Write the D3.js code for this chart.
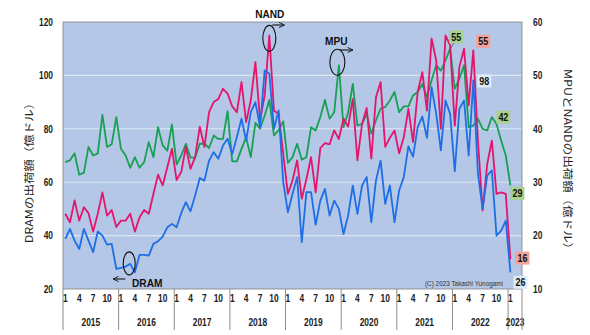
<!DOCTYPE html>
<html><head><meta charset="utf-8">
<script src="https://cdn.jsdelivr.net/npm/d3@7"></script>
<style>
html,body{margin:0;padding:0;background:#fff;}
svg{display:block;}
</style></head>
<body>
<svg id="chart" width="590" height="335"></svg>
<script>
// ---------- DATA ----------
const years = ["2015","2016","2017","2018","2019","2020","2021","2022","2023"];
const monthTicks = ["1","4","7","10"];
const leftTicks = [20,40,60,80,100,120];
const rightTicks = [10,20,30,40,50,60];
// DRAM shipments (left axis, 億ドル), monthly 2015-01 .. 2023-01
const dram = [38.75,42.5,38.1,35.0,42.5,38.1,33.75,41.6,40.0,36.6,36.9,27.5,
  27.9,28.4,29.4,26.25,32.75,32.75,32.5,36.9,37.9,39.6,43.1,44.4,
  43.1,48.5,52.5,49.1,55.0,61.6,60.6,68.1,71.25,68.75,73.75,76.25,
  70.6,76.9,83.75,75.6,86.25,90.0,80.6,101.9,100.6,80.0,86.9,60.0,
  48.75,55.6,61.9,37.5,56.25,56.25,44.1,53.1,57.5,47.5,53.1,50.0,
  40.6,47.5,58.75,48.1,58.75,61.9,45.0,60.6,68.1,51.9,58.75,45.0,
  56.9,61.9,73.4,69.6,80.6,84.6,76.6,95.6,85.6,71.9,90.6,85.6,
  64.1,87.5,90.6,70.0,98.1,63.1,50.0,62.5,64.4,40.0,41.9,45.6,
  26.25];
// MPU shipments (right axis)
const mpu = [33.75,34.1,35.4,31.4,31.8,36.6,35.0,35.4,42.6,36.6,37.1,42.2,
  36.25,35.0,32.7,34.7,32.7,33.75,37.5,34.7,40.3,36.9,35.9,40.8,
  33.3,35.0,37.2,34.6,34.6,37.2,37.2,36.4,38.75,38.1,38.1,43.3,
  33.9,33.9,36.25,38.4,34.7,41.1,40.0,42.5,45.4,38.75,39.7,41.4,
  33.6,34.7,37.2,34.2,34.7,40.3,39.7,42.2,45.4,41.9,43.1,51.9,
  40.3,43.1,48.4,40.6,40.9,42.8,39.1,41.6,43.75,44.1,45.3,46.9,
  43.1,44.2,44.2,46.25,46.9,48.4,45.9,49.1,51.9,50.9,52.8,55.0,
  47.5,49.4,51.9,40.3,40.6,41.9,40.0,39.7,42.2,40.9,37.8,35.0,
  29.4];
// NAND shipments (right axis)
const nand = [24.1,22.5,26.6,22.8,25.3,24.2,20.75,24.1,28.1,23.75,24.8,21.6,
  22.8,22.8,24.1,20.75,23.4,24.8,24.1,27.8,31.4,29.4,32.8,36.25,
  30.4,31.9,36.6,32.5,34.7,40.4,36.6,43.1,45.0,45.6,47.5,46.6,
  44.2,43.1,48.75,41.25,45.3,52.5,41.6,46.25,57.5,43.4,42.8,35.3,
  27.8,30.3,34.1,26.9,30.6,34.7,28.1,36.4,37.3,37.1,39.7,38.1,
  41.9,40.4,45.6,34.1,40.9,43.9,34.4,45.9,48.75,36.6,38.3,39.7,
  35.4,38.4,43.75,37.5,46.9,50.6,43.4,56.9,52.8,40.0,57.5,55.6,
  40.6,51.6,55.0,44.4,54.7,37.8,24.7,33.4,37.8,27.8,28.1,27.8,
  15.6];
const valueLabels = [
  {series:"mpu", idx:83, text:"55", dx:6, dy:-12, fill:"#a9d18e", leader:true},
  {series:"nand", idx:88, text:"55", dx:10, dy:-9, fill:"#f4a19c", leader:false},
  {series:"dram", idx:88, text:"98", dx:11, dy:0.5, fill:"#deebf7", leader:false},
  {series:"mpu", idx:92, text:"42", dx:11.5, dy:0, fill:"#a9d18e", leader:false},
  {series:"mpu", idx:96, text:"29", dx:7, dy:8, fill:"#a9d18e", leader:false},
  {series:"nand", idx:96, text:"16", dx:12, dy:-1, fill:"#f4a19c", leader:false},
  {series:"dram", idx:96, text:"26", dx:10, dy:10, fill:"#deebf7", leader:false}
];

// ---------- LAYOUT ----------
const L = 63, R = 522, T = 22, B = 289;
const svg = d3.select("#chart");
const FONT = "'Liberation Sans', Arial, sans-serif";
const JFONT = "'Noto Sans CJK JP', 'Noto Sans', sans-serif";

const nSlots = years.length * 12 - 9; // 2015-01 .. 2023-03 = 99 slots
const x = d3.scaleBand().domain(d3.range(nSlots)).range([L, R]).padding(0);
const xc = i => x(i) + x.bandwidth() / 2;
const yL = d3.scaleLinear().domain([20,120]).range([B, T]);
const yR = d3.scaleLinear().domain([10,60]).range([B, T]);

// plot background
svg.append("rect").attr("x", L).attr("y", T).attr("width", R-L).attr("height", B-T)
  .attr("fill", "#b4c7e7");
// gridlines
svg.append("g").selectAll("line").data(leftTicks.filter(v => v>20 && v<120)).join("line")
  .attr("x1", L).attr("x2", R).attr("y1", d=>yL(d)).attr("y2", d=>yL(d))
  .attr("stroke", "#dde6f4").attr("stroke-width", 1.1);

// series lines
const series = {dram:{data:dram, y:yL, color:"#1e6ee6"},
                mpu:{data:mpu, y:yR, color:"#17a052"},
                nand:{data:nand, y:yR, color:"#e5146c"}};
["mpu","nand","dram"].forEach(k => {
  const s = series[k];
  const line = d3.line().x((d,i)=>xc(i)).y(d=>s.y(d));
  svg.append("path").datum(s.data).attr("d", line).attr("fill","none")
    .attr("stroke", s.color).attr("stroke-width", 1.8).attr("stroke-linejoin","round");
});

// plot border
svg.append("rect").attr("x", L).attr("y", T).attr("width", R-L).attr("height", B-T)
  .attr("fill", "none").attr("stroke", "#7f7f7f").attr("stroke-width", 0.8);

// y axes
const SX = 0.8;
const gL = svg.append("g").attr("transform", `translate(${L},0)`)
  .call(d3.axisLeft(yL).tickValues(leftTicks).tickSize(0).tickPadding(10));
gL.select(".domain").remove();
gL.selectAll("text").attr("font-family", FONT).attr("font-weight","bold").attr("font-size", 10.5)
  .attr("fill","#222").attr("x", -10/SX).attr("transform", `scale(${SX},1)`);
const gR = svg.append("g").attr("transform", `translate(${R},0)`)
  .call(d3.axisRight(yR).tickValues(rightTicks).tickSize(0).tickPadding(11));
gR.select(".domain").remove();
gR.selectAll("text").attr("font-family", FONT).attr("font-weight","bold").attr("font-size", 10.5)
  .attr("fill","#222").attr("x", 11/SX).attr("transform", `scale(${SX},1)`);

function sText(g, tx, ty, str, opts) {
  const o = Object.assign({size:10.5, weight:"bold", anchor:"middle", sx:SX, fill:"#222", family:FONT}, opts||{});
  return g.append("text").attr("transform", `translate(${tx},${ty}) scale(${o.sx},1)`)
    .attr("text-anchor", o.anchor).attr("font-family", o.family).attr("font-weight", o.weight)
    .attr("font-size", o.size).attr("fill", o.fill).text(str);
}

// x category axis
const gx = svg.append("g");
years.forEach((yr, yi) => {
  const start = yi * 12;
  const end = Math.min(start + 12, nSlots);
  const xs = x(start), xe = (end >= nSlots) ? R : x(end);
  gx.append("line").attr("x1", xs).attr("x2", xs).attr("y1", B).attr("y2", 330)
    .attr("stroke", "#8c8c8c").attr("stroke-width", 1);
  monthTicks.forEach(m => {
    const idx = start + (+m - 1);
    if (yr === "2023" && m !== "1") return;
    sText(gx, xc(idx), 302, m);
  });
  sText(gx, (xs + xe)/2, 326, yr);
});
gx.append("line").attr("x1", R).attr("x2", R).attr("y1", B).attr("y2", 330)
  .attr("stroke", "#8c8c8c").attr("stroke-width", 1);

// axis titles
svg.append("text").attr("transform", "translate(33,170) rotate(-90) scale(1,0.85)")
  .attr("text-anchor","middle").attr("font-family", JFONT).attr("font-size", 12.5)
  .attr("fill","#222").text("DRAMの出荷額（億ドル）");
svg.append("text").attr("transform", "translate(564,162) rotate(90) scale(1,0.85)")
  .attr("text-anchor","middle").attr("font-family", JFONT).attr("font-size", 12.5)
  .attr("fill","#222").text("MPUとNANDの出荷額（億ドル）");

// annotations (ellipses + arrows)
const defs = svg.append("defs");
defs.append("marker").attr("id","arr").attr("viewBox","0 0 10 10").attr("refX",9).attr("refY",5)
  .attr("markerWidth",6).attr("markerHeight",6).attr("orient","auto")
  .append("path").attr("d","M1,1 L9,5 L1,9").attr("fill","none").attr("stroke","#111").attr("stroke-width",1.4);
const ann = svg.append("g");
function annotate(cx, cy, rx, ry, ax1, ay, ax2, label, lx, ly) {
  ann.append("ellipse").attr("cx",cx).attr("cy",cy).attr("rx",rx).attr("ry",ry)
    .attr("fill","none").attr("stroke","#111").attr("stroke-width",1.1);
  ann.append("line").attr("x1",ax1).attr("y1",ay).attr("x2",ax2).attr("y2",ay)
    .attr("stroke","#111").attr("stroke-width",1.1).attr("marker-end","url(#arr)");
  sText(ann, lx, ly, label, {size:11.5, sx:0.88, fill:"#111"});
}
annotate(xc(44), yR(57.5)+3, 6.5, 13, xc(44)+3, 25, xc(44)+15, "NAND", xc(44)+0.5, 18);
annotate(xc(59)-1.5, yR(51.9)-3, 7.5, 13, xc(59)+1, 50, xc(59)+14, "MPU", xc(59)-2.5, 45);
annotate(xc(14)-1, yL(29.4)-0.5, 6, 11.5, xc(14)-5, 279, xc(14)-17, "DRAM", xc(14)+17, 287);

// copyright
sText(svg, 503, 286, "(C)  2023 Takashi Yunogami", {size:7.5, weight:"normal", anchor:"end", sx:0.85, fill:"#333"});

// value labels
const gv = svg.append("g");
valueLabels.forEach(v => {
  const s = series[v.series];
  const px = xc(v.idx), py = s.y(s.data[v.idx]);
  const cx = px + v.dx, cy = py + v.dy;
  if (v.leader) {
    gv.append("line").attr("x1", px).attr("y1", py).attr("x2", cx-2).attr("y2", cy+6)
      .attr("stroke","#333").attr("stroke-width",0.7);
  }
  gv.append("rect").attr("x", cx-7).attr("y", cy-6.5).attr("width", 14).attr("height", 13)
    .attr("fill", v.fill);
  sText(gv, cx, cy+3.8, v.text, {size:10.5, sx:0.85, fill:"#111"});
});
</script>
</body></html>
